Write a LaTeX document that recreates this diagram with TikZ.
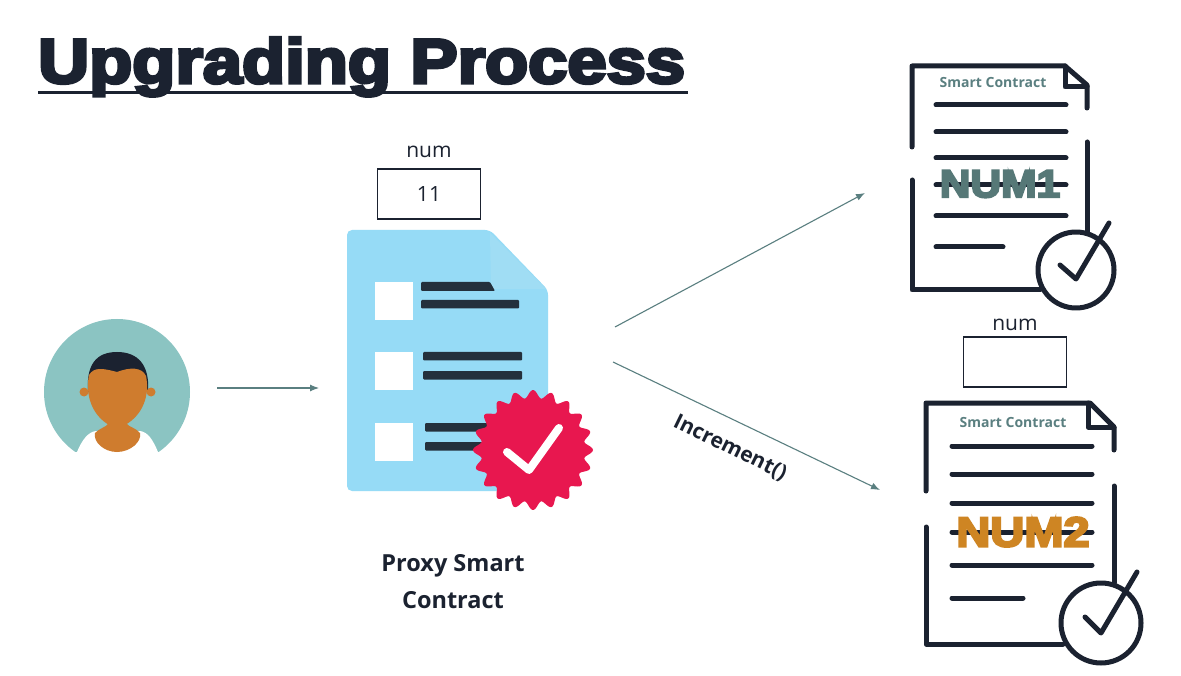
\documentclass[tikz,border=0pt]{standalone}
\usepackage{fontspec}
\setmainfont{Open Sans}
\newfontfamily\heavyfont[FakeBold=5]{Liberation Sans Bold}
\usetikzlibrary{positioning,arrows.meta}
\definecolor{inkdark}{HTML}{1B2230}
\definecolor{teal}{HTML}{8BC4C2}
\definecolor{arrowgrey}{HTML}{5A7F80}
\definecolor{docblue}{HTML}{96DBF6}
\definecolor{foldblue}{HTML}{A0DDF4}
\definecolor{badgered}{HTML}{E8174F}
\definecolor{skin}{HTML}{CF7C2E}
\definecolor{numgrey}{HTML}{567877}
\definecolor{numorange}{HTML}{CE8523}
\tikzset{
    numbox/.style={draw=inkdark, line width=1.2pt, minimum width=103pt, minimum height=50pt, inner sep=0pt, font=\fontsize{21}{24}\selectfont, text=inkdark},
    numlabel/.style={font=\fontsize{21}{24}\selectfont, text=inkdark},
    flow/.style={-{Latex[length=9pt,width=7pt]}, arrowgrey, line width=1.1pt},
    docline/.style={inkdark, line width=5pt, line cap=round, line join=round},
    textline/.style={inkdark, line width=5pt, line cap=round},
    bar/.style={fill=inkdark!85!arrowgrey, rounded corners=1pt},
    whitebox/.style={fill=white},
    sctitle/.style={font=\fontsize{14}{16}\selectfont\bfseries, text=arrowgrey},
    biglabel/.style={font=\fontsize{23.5}{26}\selectfont\bfseries, text=inkdark}
}
\begin{document}
\begin{tikzpicture}[>=latex, x=1pt, y=-1pt]
\useasboundingbox (0,0) rectangle (1181,676);
\fill[white] (0,0) rectangle (1181,676);

\node[anchor=base west, inner sep=0pt, text=inkdark] (heading) at (38,83) {\scalebox{1.12}[1]{\heavyfont\fontsize{63}{66}\selectfont Upgrading Process}};
\draw[inkdark, line width=3pt] (38,93)--(688,93);

% user
\fill[teal] (117,392) circle (73);
\fill[white] (70,452) -- (77,452) .. controls (82,440) and (88,432) .. (96,431) -- (140,431) .. controls (148,432) and (153,440) .. (158,452) -- (165,452) -- (165,470) -- (70,470) -- cycle;
\fill[skin] (95,433) .. controls (100,428) and (106,427) .. (108,424) -- (127,424) .. controls (129,427) and (136,428) .. (140,433) .. controls (142,442) and (130,452) .. (117,452) .. controls (104,452) and (93,442) .. (95,433) -- cycle;
\fill[inkdark] (88,392) .. controls (86,365) and (96,352) .. (117,352) .. controls (138,352) and (150,365) .. (148,392) -- cycle;
\fill[skin] (84,392) circle (4.5) (151,392) circle (4.5);
\fill[skin] (89,375) .. controls (94,367) and (102,368) .. (117,372) .. controls (130,367) and (142,367) .. (146,376) .. controls (150,395) and (143,415) .. (125,425) -- (109,425) .. controls (92,415) and (85,395) .. (89,375) -- cycle;
\node[minimum size=0pt, inner sep=0pt] (user) at (117,392) {};

% proxy document
\fill[docblue, rounded corners=5pt] (347,230) -- (490,230) -- (548,290) -- (548,491) -- (347,491) -- cycle;
\fill[foldblue] (490,233) -- (491,289) -- (546,289) -- cycle;
\foreach \y in {282,352,423}
{
    \fill[whitebox] (375,\y) rectangle +(38,38);
}
\fill[bar] (421,282) -- (490,282) -- (495,291) -- (421,291) -- cycle;
\foreach \xa/\xb/\y in {421/519/300,423/522/352,423/522/371,425/495/423,425/495/442}
{
    \fill[bar] (\xa,\y) rectangle (\xb,\y+8.5);
}
\fill[badgered] plot[domain=0:360, samples=240, smooth] ({533+56*cos(\x)+4*cos(20*\x)*cos(\x)}, {450+56*sin(\x)+4*cos(20*\x)*sin(\x)}) -- cycle;
\draw[white, line width=8pt, line cap=round, line join=round] (507,452)--(529,470)--(559,428);

\node[numbox] (numbox0) at (429,194) {11};
\node[numlabel, above=7pt of numbox0] (numlabel0) {num};
\node[biglabel] (proxy1) at (453,566) {Proxy Smart};
\node[biglabel] (proxy2) at (453,600) {Contract};

% first contract
\draw[docline] (912,147)--(912,66)--(1065,66)--(1087,85)--(1087,108);
\draw[docline] (1065,66)--(1065,87)--(1087,87);
\draw[docline] (1087,142)--(1087,233);
\draw[docline] (912,180)--(912,290)--(1040,290);
\foreach \y in {105,132,158,185,216}
{
    \draw[textline] (936,\y)--(1066,\y);
}
\draw[textline] (936,247)--(1003,247);
\draw[docline] (1076,270) circle (38);
\draw[docline] (1060,265)--(1076,279)--(1109,223);
\node[sctitle] (sctitle1) at (993,83) {Smart Contract};
\node (num1) at (1000,184) {\scalebox{1.09}[1]{\heavyfont\color{numgrey}\fontsize{39}{40}\selectfont NUM1}};

% second contract
\node[numbox] (numbox2) at (1015,362) {};
\node[numlabel, above=2pt of numbox2] (numlabel2) {num};
\draw[docline] (926,491)--(926,403)--(1090,403)--(1114,427)--(1114,450);
\draw[docline] (1088,403)--(1088,427)--(1114,427);
\draw[docline] (1114,486)--(1114,583);
\draw[docline] (926,527)--(926,644)--(1063,644);
\foreach \y in {446,474,503,532,565}
{
    \draw[textline] (952,\y)--(1092,\y);
}
\draw[textline] (952,598)--(1023,598);
\draw[docline] (1101,623) circle (40);
\draw[docline] (1085,617)--(1101,633)--(1137,572);
\node[sctitle] (sctitle2) at (1013,422) {Smart Contract};
\node (num2) at (1023,532) {\scalebox{1.12}[1]{\heavyfont\color{numorange}\fontsize{42}{43}\selectfont NUM2}};

% arrows
\coordinate (userout) at (217,388);
\coordinate (proxyin) at (319,388);
\coordinate (proxyout1) at (615,327);
\coordinate (contract1in) at (865,193);
\coordinate (proxyout2) at (613,362);
\coordinate (contract2in) at (880,490);
\draw[flow] (userout)--(proxyin);
\draw[flow] (proxyout1)--(contract1in);
\draw[flow] (proxyout2)--(contract2in);
\node[rotate=-26, font=\fontsize{21}{24}\selectfont\bfseries, text=inkdark] (increment) at (730,448) {Increment()};
\end{tikzpicture}
\end{document}
